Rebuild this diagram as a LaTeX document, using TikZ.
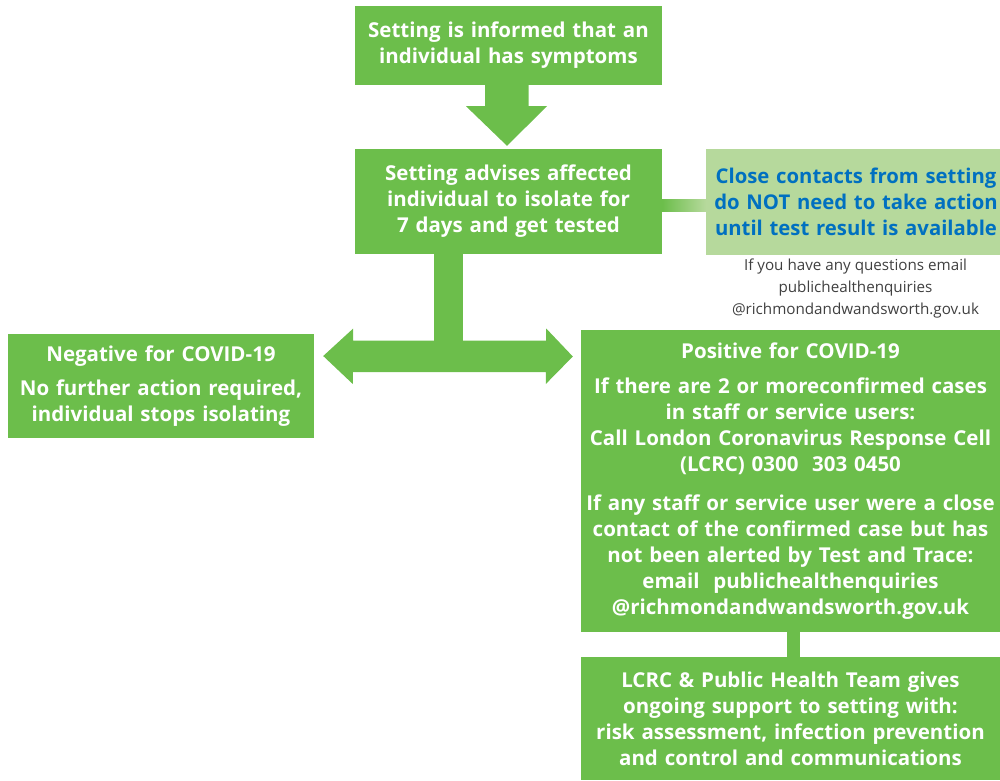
\documentclass[tikz,border=0pt]{standalone}
\usepackage{fontspec}
\setmainfont{Open Sans}
\usetikzlibrary{calc}

\definecolor{boxgreen}{RGB}{108,190,75}
\definecolor{palegreen}{RGB}{182,217,156}
\definecolor{infoblue}{RGB}{0,112,192}
\definecolor{notegray}{RGB}{64,64,64}

\tikzset{
	stepbox/.style={fill=boxgreen, text=white, align=center, inner sep=0pt,
		font=\bfseries\fontsize{20.5}{26}\selectfont},
	infobox/.style={fill=palegreen, text=infoblue, align=center, inner sep=0pt,
		font=\bfseries\fontsize{20.3}{26}\selectfont},
	note/.style={text=notegray, align=center, inner sep=0pt,
		font=\fontsize{15.2}{22}\selectfont},
}

\begin{document}
\begin{tikzpicture}[x=1pt,y=-1pt]
	\useasboundingbox (0,0) rectangle (1000,780);
	
	% boxes
	\node[stepbox, minimum width=307, minimum height=79, text width=303] (informed) at (508.5,45.5) {Setting is informed that an\\individual has symptoms};
	\node[stepbox, minimum width=307, minimum height=105, text width=303] (advise) at (508.5,201.5) {Setting advises affected\\individual to isolate for\\7 days and get tested};
	\node[infobox, minimum width=296, minimum height=106, text width=300] (close) at (856,202) {Close contacts from setting\\do NOT need to take action\\until test result is available};
	\node[note] (questions) at (855.5,289) {If you have any questions email\\publichealthenquiries\\@richmondandwandsworth.gov.uk};
	\node[stepbox, minimum width=306, minimum height=104, text width=303] (negative) at (161,386) {Negative for COVID-19\\[8pt]No further action required,\\individual stops isolating};
	\node[stepbox, minimum width=419, minimum height=302, text width=417] (positive) at (790.5,481) {Positive for COVID-19\\[9pt]If there are 2 or moreconfirmed cases\\in staff or service users:\\Call London Coronavirus Response Cell\\(LCRC) 0300~~303 0450\\[13pt]If any staff or service user were a close\\contact of the confirmed case but has\\not been alerted by Test and Trace:\\email~~publichealthenquiries\\@richmondandwandsworth.gov.uk};
	\node[stepbox, minimum width=419, minimum height=123, text width=417] (support) at (790.5,718.5) {LCRC \& Public Health Team gives\\ongoing support to setting with:\\risk assessment, infection prevention\\and control and communications};
	
	% block arrows
	\coordinate (downtip) at ($(advise.north)+(-1.5,-3)$);
	\fill[boxgreen] ($(informed.south)+(-23.5,0)$) -- ++(0,21) -- ++(-19,0) -- (downtip) -- ($(informed.south)+(38.5,21)$) -- ++(-18.5,0) -- ++(0,-21) -- cycle;
	\shade[left color=boxgreen, right color=palegreen] ($(advise.east)+(0,-2.5)$) rectangle ($(close.west)+(0,9.5)$);
	\fill[boxgreen] ($(advise.south)+(-74.5,0)$) rectangle ++(29,90);
	\coordinate (negtip) at ($(negative.east)+(9,-30)$);
	\coordinate (postip) at ($(positive.west)+(-8,-124.5)$);
	\fill[boxgreen] (negtip) -- ++(30,-27.5) -- ++(0,12) -- ++(193,0) -- ++(0,-12) -- (postip) -- ++(-27,27.5) -- ++(0,-12) -- ++(-193,0) -- ++(0,12) -- cycle;
	\fill[boxgreen] ($(positive.south)+(-3.5,0)$) rectangle ($(support.north)+(9.5,0)$);
	
\end{tikzpicture}
\end{document}
